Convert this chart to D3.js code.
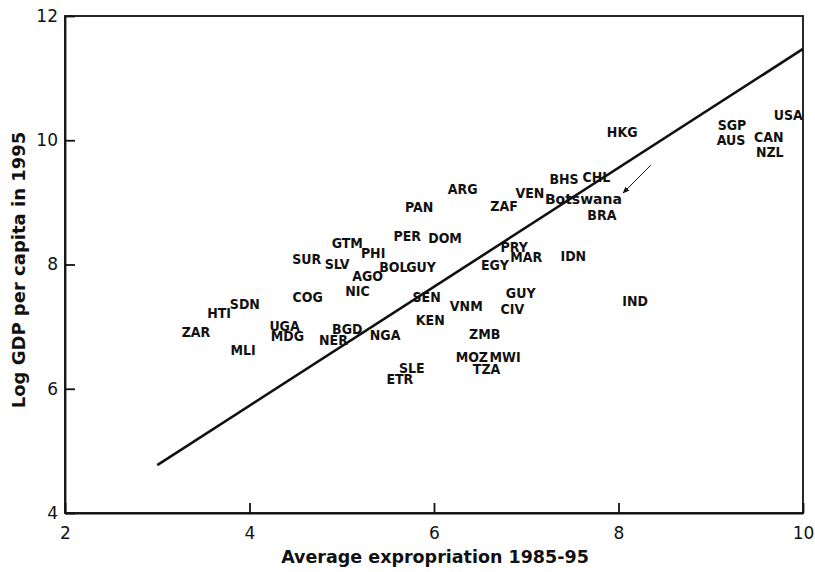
<!DOCTYPE html>
<html>
<head>
<meta charset="utf-8">
<script src="https://cdn.jsdelivr.net/npm/d3@7"></script>
<style>
  body { margin: 0; background: #fff; }
  svg { display: block; }
</style>
</head>
<body>
<div id="chart"></div>
<script>
const layout = {
    width: 815,
    height: 572,
    left: 65,
    right: 803,
    top: 16,
    bottom: 513
};

// country labels
const countries = ["USA", "SGP", "AUS", "CAN", "NZL", "HKG", "BHS", "CHL", "VEN", "Botswana",
    "BRA", "ARG", "PAN", "ZAF", "PER", "DOM", "GTM", "PHI", "SUR", "SLV",
    "BOL", "GUY", "AGO", "NIC", "COG", "SDN", "HTI", "ZAR", "UGA", "MDG",
    "BGD", "NER", "NGA", "MLI", "SLE", "ETR", "SEN", "KEN", "VNM", "GUY",
    "CIV", "IND", "ZMB", "MOZ", "MWI", "TZA", "PRY", "MAR", "EGY", "IDN"];
const expropriation = [9.84, 9.23, 9.22, 9.63, 9.64, 8.04, 7.41, 7.76, 7.04, 7.62,
    7.82, 6.31, 5.84, 6.76, 5.71, 6.12, 5.06, 5.34, 4.62, 4.95,
    5.56, 5.86, 5.28, 5.17, 4.63, 3.95, 3.67, 3.42, 4.38, 4.41,
    5.06, 4.91, 5.47, 3.93, 5.76, 5.63, 5.92, 5.96, 6.35, 6.94,
    6.85, 8.18, 6.55, 6.41, 6.77, 6.57, 6.87, 7.00, 6.66, 7.51];
const logGdp = [10.41, 10.25, 10.00, 10.05, 9.81, 10.13, 9.38, 9.41, 9.15, 9.05,
    8.80, 9.22, 8.93, 8.94, 8.46, 8.43, 8.35, 8.19, 8.09, 8.01,
    7.96, 7.96, 7.81, 7.57, 7.48, 7.36, 7.22, 6.91, 7.01, 6.85,
    6.96, 6.78, 6.87, 6.62, 6.33, 6.16, 7.48, 7.11, 7.33, 7.54,
    7.28, 7.41, 6.88, 6.51, 6.51, 6.32, 8.28, 8.12, 7.99, 8.14];

// fitted line and the Botswana pointer
const fitX = [3, 10];
const fitY = [4.77, 11.47];
const arrowX = [8.35, 8.05];
const arrowY = [9.60, 9.15];

const xTicks = [2, 4, 6, 8, 10];
const yTicks = [4, 6, 8, 10, 12];

let svg = d3.select("#chart").append("svg")
    .attr("width", layout.width)
    .attr("height", layout.height);

let xScale = d3.scaleLinear().domain([2, 10]).range([layout.left, layout.right]);
let yScale = d3.scaleLinear().domain([4, 12]).range([layout.bottom, layout.top]);

const ink = "#111";

// frame (top and right)
svg.append("rect")
    .attr("x", layout.left)
    .attr("y", layout.top)
    .attr("width", layout.right - layout.left)
    .attr("height", layout.bottom - layout.top)
    .attr("fill", "none")
    .attr("stroke", ink)
    .attr("stroke-width", 1.8);

// axes with inward ticks
let xAxis = svg.append("g")
    .attr("transform", `translate(0,${layout.bottom})`)
    .call(d3.axisBottom(xScale).tickValues(xTicks).tickSizeInner(-10).tickSizeOuter(0).tickPadding(14));
let yAxis = svg.append("g")
    .attr("transform", `translate(${layout.left},0)`)
    .call(d3.axisLeft(yScale).tickValues(yTicks).tickSizeInner(-10).tickSizeOuter(0).tickPadding(7));

[xAxis, yAxis].forEach(ax => {
    ax.selectAll("line, .domain").attr("stroke", ink).attr("stroke-width", 1.8);
    ax.selectAll("text")
        .attr("fill", ink)
        .attr("font-family", "DejaVu Sans")
        .attr("font-size", 17);
});

// axis titles
svg.append("text")
    .attr("x", 435)
    .attr("y", 563)
    .attr("text-anchor", "middle")
    .attr("font-family", "DejaVu Sans")
    .attr("font-weight", "bold")
    .attr("font-size", 17.5)
    .attr("fill", ink)
    .text("Average expropriation 1985-95");

svg.append("text")
    .attr("transform", "translate(25,270) rotate(-90)")
    .attr("text-anchor", "middle")
    .attr("font-family", "DejaVu Sans")
    .attr("font-weight", "bold")
    .attr("font-size", 18)
    .attr("fill", ink)
    .text("Log GDP per capita in 1995");

// regression line
svg.append("path")
    .datum(d3.zip(fitX, fitY))
    .attr("fill", "none")
    .attr("stroke", ink)
    .attr("stroke-width", 2.6)
    .attr("d", d3.line().x(d => xScale(d[0])).y(d => yScale(d[1])));

// country codes
let points = countries.map((c, i) => ({ name: c, x: expropriation[i], y: logGdp[i] }));
svg.append("g")
    .selectAll("text")
    .data(points)
    .join("text")
    .attr("x", d => xScale(d.x))
    .attr("y", d => yScale(d.y))
    .attr("dy", "0.36em")
    .attr("text-anchor", "middle")
    .attr("font-family", d => d.name === "Botswana" ? "DejaVu Sans" : "DejaVu Sans Condensed")
    .attr("font-weight", "bold")
    .attr("font-size", 14)
    .attr("fill", ink)
    .text(d => d.name);

// arrow towards Botswana
svg.append("defs").append("marker")
    .attr("id", "head")
    .attr("viewBox", "0 0 10 10")
    .attr("refX", 9)
    .attr("refY", 5)
    .attr("markerWidth", 7)
    .attr("markerHeight", 7)
    .attr("orient", "auto")
    .append("path")
    .attr("d", "M0,1 L10,5 L0,9 Z")
    .attr("fill", ink);

svg.append("line")
    .attr("x1", xScale(arrowX[0]))
    .attr("y1", yScale(arrowY[0]))
    .attr("x2", xScale(arrowX[1]))
    .attr("y2", yScale(arrowY[1]))
    .attr("stroke", ink)
    .attr("stroke-width", 1)
    .attr("marker-end", "url(#head)");
</script>
</body>
</html>
